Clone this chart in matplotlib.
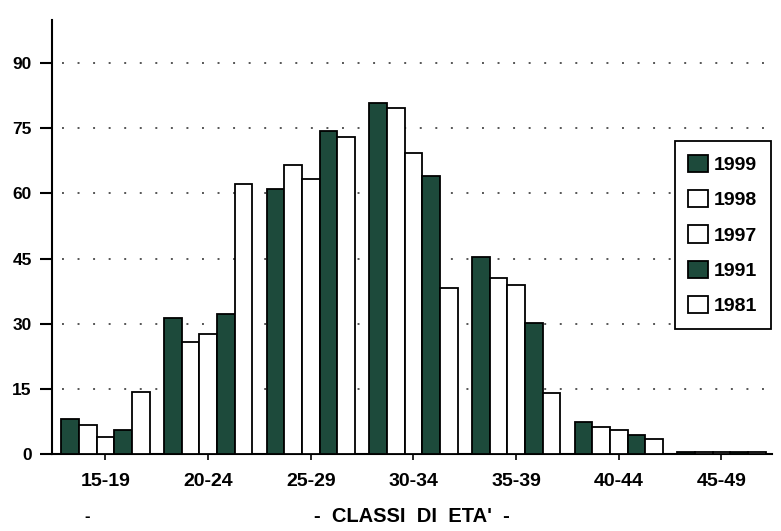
import matplotlib
matplotlib.use("Agg")
import matplotlib.pyplot as plt
from matplotlib.patches import Patch
import numpy as np

plt.rcParams['font.family'] = ['Liberation Sans', 'DejaVu Sans']
plt.rcParams['font.weight'] = 'bold'

categories = ["15-19", "20-24", "25-29", "30-34", "35-39", "40-44", "45-49"]
series_names = ["1999", "1998", "1997", "1991", "1981"]
v1999 = [8.0, 31.3, 61.0, 80.9, 45.3, 7.2, 0.3]
v1998 = [6.5, 25.7, 66.6, 79.6, 40.5, 6.1, 0.3]
v1997 = [3.8, 27.7, 63.3, 69.4, 38.8, 5.5, 0.3]
v1991 = [5.4, 32.3, 74.3, 64.1, 30.1, 4.4, 0.3]
v1981 = [14.3, 62.3, 73.0, 38.2, 13.9, 3.4, 0.3]
yticks = [0, 15, 30, 45, 60, 75, 90]
xlabel = "-  CLASSI  DI  ETA'  -"

DARK = "#1d4a3b"
series = [v1999, v1998, v1997, v1991, v1981]
fills = [DARK, "white", "white", DARK, "white"]

fig = plt.figure(figsize=(7.81, 5.31), dpi=100)
ax = fig.add_axes([0.0666, 0.1456, 0.9215, 0.8167])

x = np.arange(len(categories))
w = 0.172
for i, (vals, fc) in enumerate(zip(series, fills)):
    ax.bar(x + (i - 2) * w, vals, width=w, color=fc, edgecolor="black",
           linewidth=1.3, zorder=3)

ax.set_xlim(-0.52, 6.49)
ax.set_ylim(0, 100)
ax.set_yticks(yticks)
ax.set_xticks(x)
ax.set_xticklabels(categories)

for yv in yticks[1:]:
    ax.axhline(yv, xmin=0.014, xmax=0.99, linestyle=(0, (1, 7)),
               color="#555555", linewidth=1.4, zorder=0)

for s in ["top", "right"]:
    ax.spines[s].set_visible(False)
for s in ["left", "bottom"]:
    ax.spines[s].set_linewidth(1.5)

ax.tick_params(axis="y", direction="out", length=8.6, width=1.5, pad=6,
               labelsize=12.5)
ax.tick_params(axis="x", direction="out", length=4, width=1.2, pad=10,
               labelsize=14)
for lab in ax.get_xticklabels() + ax.get_yticklabels():
    lab.set_fontweight("bold")

ax.set_xlabel(xlabel, fontsize=14.5, fontweight="bold", labelpad=12)

handles = [Patch(facecolor=fc, edgecolor="black", linewidth=1.3) for fc in fills]
leg = ax.legend(handles, series_names, loc="upper right",
                bbox_to_anchor=(0.9986, 0.721), fontsize=14, frameon=True,
                fancybox=False, edgecolor="black", framealpha=1,
                handlelength=1.0, handleheight=1.0, handletextpad=0.3,
                labelspacing=0.82, borderpad=0.7, borderaxespad=0)
leg.get_frame().set_linewidth(1.3)
for t in leg.get_texts():
    t.set_fontweight("bold")

fig.text(87 / 781, 1 - 516 / 531, "-", fontsize=12, fontweight="bold",
         ha="center", va="center")

fig.savefig("out.png", dpi=100)
